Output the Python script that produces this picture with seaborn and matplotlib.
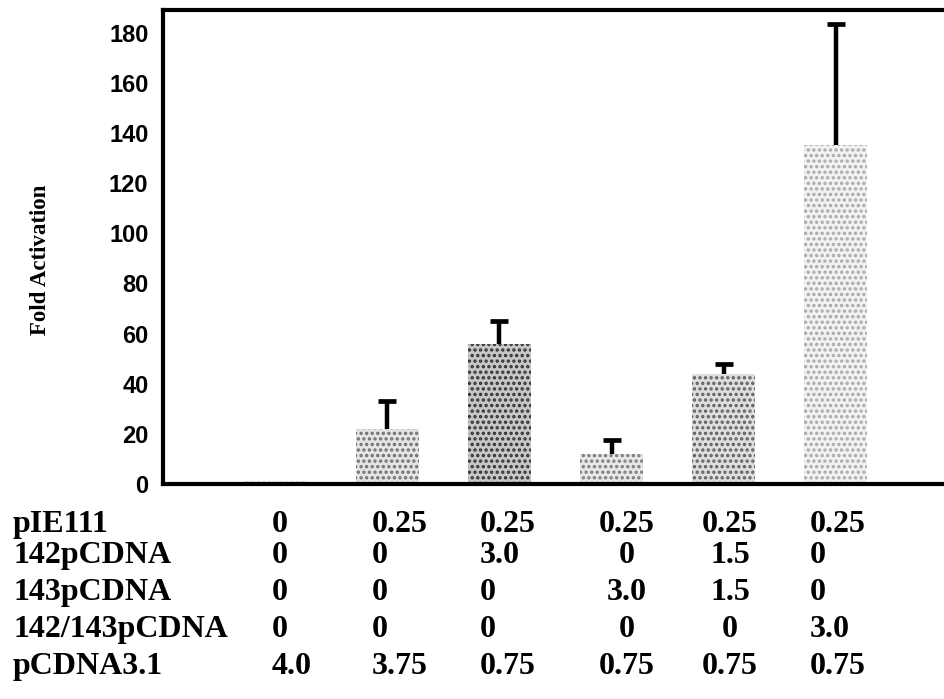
import matplotlib
matplotlib.use("Agg")
import matplotlib.pyplot as plt
import seaborn as sns
import numpy as np

# Transfection groups and measured reporter activity
groups = ["G1", "G2", "G3", "G4", "G5", "G6"]
fold_activation = [1.0, 22.0, 56.0, 12.0, 44.0, 135.0]
sem_upper = [0.0, 11.0, 9.0, 5.5, 4.0, 48.5]

# Plasmid amounts (ug) for each group, printed under the bars
row_names = ["pIE111", "142pCDNA", "143pCDNA", "142/143pCDNA", "pCDNA3.1"]
pIE111 = ["0", "0.25", "0.25", "0.25", "0.25", "0.25"]
p142 = ["0", "0", "3.0", "0", "1.5", "0"]
p143 = ["0", "0", "0", "3.0", "1.5", "0"]
p142_143 = ["0", "0", "0", "0", "0", "3.0"]
pcdna31 = ["4.0", "3.75", "0.75", "0.75", "0.75", "0.75"]

yticks = [0, 20, 40, 60, 80, 100, 120, 140, 160, 180]

sns.set_style("white")
plt.rcParams.update({
    "hatch.linewidth": 1.6,
    "text.color": "black",
    "axes.labelcolor": "black",
    "xtick.color": "black",
    "ytick.color": "black",
})

W, H = 944, 699
fig = plt.figure(figsize=(W / 100, H / 100), dpi=100)
ax_left, ax_right, ax_top, ax_bottom = 163, 948, 10, 484
ax = fig.add_axes([ax_left / W, 1 - ax_bottom / H,
                   (ax_right - ax_left) / W, (ax_bottom - ax_top) / H])

face = ["#eeeeee", "#e4e4e4", "#c6c6c6", "#e8e8e8", "#dedede", "#f2f2f2"]
dots = ["#888888", "#6e6e6e", "#303030", "#7a7a7a", "#5e5e5e", "#a8a8a8"]

sns.barplot(x=groups, y=fold_activation, hue=groups, palette=face,
            legend=False, width=0.56, saturation=1, ax=ax)
for patch, ec in zip(ax.patches, dots):
    patch.set_hatch("...")
    patch.set_edgecolor(ec)
    patch.set_linewidth(0)

# upper error bars only (the lower cap is hidden)
xs = np.arange(len(groups))
err = np.array(sem_upper)
mask = err > 0
_, caps, _ = ax.errorbar(xs[mask], np.array(fold_activation)[mask],
                         yerr=[np.zeros(mask.sum()), err[mask]],
                         fmt="none", ecolor="black", elinewidth=3.2,
                         capsize=6.5, capthick=3.4, zorder=5)
caps[0].set_visible(False)

ax.set_xlim(-1, 6)
ax.set_ylim(0, 189)
ax.set_yticks(yticks)
ax.set_yticklabels([str(t) for t in yticks],
                   fontdict={"family": "Liberation Sans", "weight": "bold",
                             "size": 17})
ax.tick_params(axis="y", direction="out", length=7, width=1.6, pad=3.5)
ax.tick_params(axis="x", direction="out", length=4, width=2.2,
               labelbottom=False)
ax.set_xlabel("")

for side in ["left", "bottom", "top", "right"]:
    ax.spines[side].set_linewidth(3)
    ax.spines[side].set_color("black")
    ax.spines[side].set_visible(True)

ax.set_ylabel("Fold Activation", family="Liberation Serif", weight="bold",
              fontsize=16.5)
ax.yaxis.label.set_verticalalignment("center")
ax.yaxis.set_label_coords((41 - ax_left) / (ax_right - ax_left),
                          (ax_bottom - 260) / (ax_bottom - ax_top))

# amounts table below the axis
table_rows = [pIE111, p142, p143, p142_143, pcdna31]
baselines = [532, 563, 600, 637, 674]
col_x = [272, 372, 480, 627, 730, 810]
col_ha = ["left", "left", "left", "center", "center", "left"]
tfont = dict(family="Liberation Serif", weight="bold", fontsize=23)
for name, vals, yb in zip(row_names, table_rows, baselines):
    fig.text(13 / W, 1 - yb / H, name, ha="left", va="baseline", **tfont)
    for v, cx, ha in zip(vals, col_x, col_ha):
        fig.text(cx / W, 1 - yb / H, v, ha=ha, va="baseline", **tfont)

fig.savefig("out.png", dpi=100)
